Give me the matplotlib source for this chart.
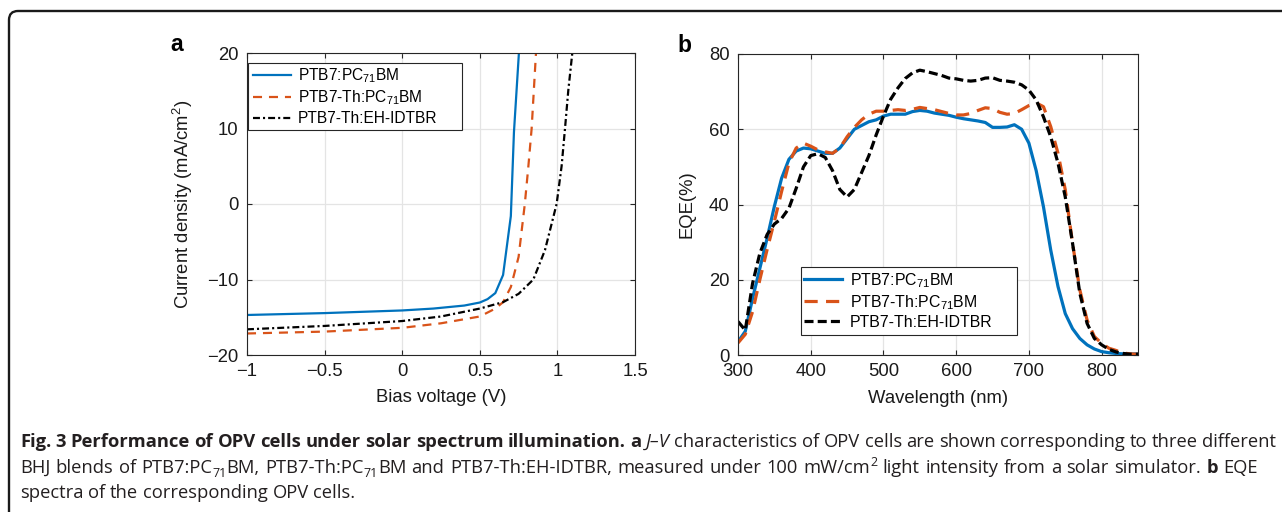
import matplotlib
matplotlib.use('Agg')
import matplotlib.pyplot as plt
from matplotlib.patches import FancyBboxPatch, Rectangle
from matplotlib.transforms import IdentityTransform

plt.rcParams['font.family'] = ['Liberation Sans', 'DejaVu Sans']
plt.rcParams['lines.scale_dashes'] = False

# ---------------- data ----------------
series_names = ['PTB7:PC$_\\mathregular{71}$BM',
                'PTB7-Th:PC$_\\mathregular{71}$BM',
                'PTB7-Th:EH-IDTBR']

# panel a : J-V
jv_v_blue = [-1.0, -0.5, 0.0, 0.2, 0.4, 0.5, 0.55, 0.6, 0.65, 0.70, 0.72, 0.752]
jv_j_blue = [-14.7, -14.45, -14.1, -13.85, -13.45, -13.05, -12.6, -11.8, -9.4, -1.6, 9.5, 20.0]

jv_v_orange = [-1.0, -0.5, 0.0, 0.25, 0.5, 0.6, 0.65, 0.70, 0.75, 0.79, 0.813, 0.834, 0.862]
jv_j_orange = [-17.15, -16.9, -16.4, -15.8, -14.9, -13.85, -13.0, -11.0, -7.0, 0.0, 5.0, 10.0, 20.0]

jv_v_black = [-1.0, -0.5, 0.0, 0.25, 0.5, 0.65, 0.75, 0.845, 0.92, 0.995, 1.027, 1.049, 1.07, 1.096]
jv_j_black = [-16.6, -16.15, -15.5, -14.9, -13.85, -13.0, -11.9, -10.0, -6.1, 0.0, 5.0, 10.0, 15.0, 20.0]

jv_xticks = [-1, -0.5, 0, 0.5, 1, 1.5]
jv_xticklabels = ['\u22121', '\u22120.5', '0', '0.5', '1', '1.5']
jv_yticks = [-20, -10, 0, 10, 20]
jv_yticklabels = ['\u221220', '\u221210', '0', '10', '20']

# panel b : EQE
wl = [300, 310, 320, 330, 340, 350, 360, 370, 380, 390, 400, 410, 420, 430, 440,
      450, 460, 470, 480, 490, 500, 510, 520, 530, 540, 550, 560, 570, 580, 590,
      600, 610, 620, 630, 640, 650, 660, 670, 680, 690, 700, 710, 720, 730, 740,
      750, 760, 770, 780, 790, 800, 810, 820, 830, 840, 850]
eqe_blue = [3.5, 6.3, 15, 23, 31, 39.5, 47, 52, 54.2, 55, 54.8, 54.2, 53.6, 53.6, 55,
            57.5, 60, 61, 62, 62.5, 63.5, 64, 64, 64, 64.7, 65, 64.8, 64.3, 64, 63.7,
            63.2, 62.8, 62.5, 62.2, 61.8, 60.5, 60.5, 60.6, 61.2, 60, 56.3, 49, 39.4, 27.9, 18.2,
            11, 7, 4.4, 2.7, 1.6, 0.9, 0.6, 0.4, 0.3, 0.3, 0.3]
eqe_orange = [3.2, 5.5, 11.5, 20, 28, 35.5, 43.5, 51, 55, 56.3, 55.5, 54.5, 54, 53.6, 55,
              58, 60.5, 62.5, 64, 64.8, 64.8, 65, 65.2, 65, 65.3, 65.8, 65.5, 65.2, 64.7, 64.2,
              63.8, 63.8, 64.2, 65, 65.7, 65.5, 64.5, 64, 64.2, 65.2, 66.3, 67, 66, 60.7, 53.6,
              43.9, 29.7, 17.3, 9.3, 4.9, 3.1, 1.8, 1.2, 0.5, 0.3, 0.2]
eqe_black = [8.9, 6.6, 19, 27, 32, 34.8, 36.3, 39, 44.3, 50, 53, 53.5, 52.5, 49, 44,
             42, 44, 48.5, 53, 58.5, 63.5, 68, 71, 73.5, 75, 75.7, 75.3, 74.8, 74.3, 73.6,
             73.4, 73, 72.8, 73, 73.6, 73.7, 73, 72.8, 72.5, 71.8, 70.4, 67.8, 63.3, 58, 51,
             42, 29.7, 16.4, 8.4, 4.4, 2.7, 1.5, 0.8, 0.4, 0.2, 0.2]
eqe_xticks = [300, 400, 500, 600, 700, 800]
eqe_yticks = [0, 20, 40, 60, 80]

# caption (markup: *bold*, _italic_, ~sub~, ^sup^)
caption_lines = [
    "*Fig. 3 Performance of OPV cells under solar spectrum illumination.* *a* _J\u2013V_ "
    "characteristics of OPV cells are shown corresponding to three different",
    "BHJ blends of PTB7:PC~71~BM, PTB7-Th:PC~71~BM and PTB7-Th:EH-IDTBR, measured under "
    "100 mW/cm^2^ light intensity from a solar simulator. *b* EQE",
    "spectra of the corresponding OPV cells.",
]

# ---------------- figure ----------------
W, H = 1282, 512
fig = plt.figure(figsize=(W / 100, H / 100), dpi=100)
fig.patch.set_facecolor('white')

def px_axes(l, t, r, b):
    return fig.add_axes([l / W, 1 - b / H, (r - l) / W, (b - t) / H])

A_BOX = (247, 53, 635, 355)
B_BOX = (738, 54, 1138, 355)
axA = px_axes(*A_BOX)
axB = px_axes(*B_BOX)

BLUE = '#0072BD'
ORANGE = '#D95319'
BLACK = '#000000'
FS = 13.3

def style(ax):
    ax.grid(True, color='#e4e4e4', lw=0.9)
    ax.set_axisbelow(True)
    for s in ax.spines.values():
        s.set_linewidth(0.8)
        s.set_color('#262626')
    ax.tick_params(direction='in', length=3.5, width=0.8, top=True, right=True,
                   labelsize=FS, color='#262626', labelcolor='#1a1a1a', pad=6)

def ax_frac(box, px, py):
    l, t, r, b = box
    return (px - l) / (r - l), (b - py) / (b - t)

def legend_box(ax, box, rect, anchor_px, fontsize, labelspacing):
    l, t, r, b = rect
    x0, y0 = ax_frac(box, l, b)
    x1, y1 = ax_frac(box, r, t)
    ax.add_patch(Rectangle((x0, y0), x1 - x0, y1 - y0, transform=ax.transAxes,
                           fc='white', ec='#262626', lw=0.8, zorder=5, clip_on=False))
    leg = ax.legend(loc='upper left', bbox_to_anchor=ax_frac(box, *anchor_px),
                    borderaxespad=0, borderpad=0, frameon=False,
                    fontsize=fontsize, handlelength=2.42, handletextpad=0.48,
                    labelspacing=labelspacing)
    leg.set_zorder(6)
    return leg

# panel a
axA.plot(jv_v_blue, jv_j_blue, color=BLUE, lw=1.6, label=series_names[0])
axA.plot(jv_v_orange, jv_j_orange, color=ORANGE, lw=1.6, dashes=(6.5, 5), label=series_names[1])
axA.plot(jv_v_black, jv_j_black, color=BLACK, lw=1.6, dashes=(5, 2.2, 1.5, 2.2), label=series_names[2])
axA.set_xlim(-1, 1.5)
axA.set_ylim(-20, 20)
axA.set_xticks(jv_xticks)
axA.set_xticklabels(jv_xticklabels)
axA.set_yticks(jv_yticks)
axA.set_yticklabels(jv_yticklabels)
style(axA)
axA.set_xlabel('Bias voltage (V)', fontsize=FS, color='#1a1a1a', va='center')
axA.xaxis.set_label_coords(0.5, -0.142)
axA.set_ylabel('Current density (mA/cm$^\\mathregular{2}$)', fontsize=FS, color='#1a1a1a', va='center')
axA.yaxis.set_label_coords((183 - 247) / 388, 0.5)
legend_box(axA, A_BOX, (248, 63, 462, 130), (253, 66), 11.2, 0.25)

# panel b
axB.plot(wl, eqe_blue, color=BLUE, lw=2.3, label=series_names[0])
axB.plot(wl, eqe_orange, color=ORANGE, lw=2.3, dashes=(9.5, 6), label=series_names[1])
axB.plot(wl, eqe_black, color=BLACK, lw=2.3, dashes=(6.5, 3), label=series_names[2])
axB.set_xlim(300, 850)
axB.set_ylim(0, 80)
axB.set_xticks(eqe_xticks)
axB.set_yticks(eqe_yticks)
style(axB)
axB.set_xlabel('Wavelength (nm)', fontsize=FS, color='#1a1a1a', va='center')
axB.xaxis.set_label_coords(0.5, -0.143)
axB.set_ylabel('EQE(%)', fontsize=FS, color='#1a1a1a', va='center')
axB.yaxis.set_label_coords((687 - 738) / 400, 0.5)
legend_box(axB, B_BOX, (801, 267, 1017, 335), (804, 271), 11.4, 0.2)

# panel letters
fig.text(170 / W, 1 - 51 / H, 'a', fontsize=16.5, weight='bold', va='baseline', ha='left')
fig.text(677 / W, 1 - 52 / H, 'b', fontsize=16.5, weight='bold', va='baseline', ha='left')

# border
border = FancyBboxPatch((9, -40), 1320, 512 - 11 + 40,
                        boxstyle='round,pad=0,rounding_size=9',
                        transform=IdentityTransform(), fill=False,
                        lw=1.7, ec='#1a1a1a')
fig.add_artist(border)

# ---------------- caption ----------------
renderer = fig.canvas.get_renderer()
CAP_FONT = ['Open Sans', 'DejaVu Sans']

def parse_line(s):
    """Return list of words; each word is list of (text, weight, style, shift)."""
    words, cur = [], []
    state = {'weight': 'normal', 'style': 'normal', 'shift': None}
    buf = ''
    for ch in s + ' ':
        if ch in '*_~^ ':
            if buf:
                cur.append((buf, state['weight'], state['style'], state['shift']))
                buf = ''
            if ch == '*':
                state['weight'] = 'bold' if state['weight'] == 'normal' else 'normal'
            elif ch == '_':
                state['style'] = 'italic' if state['style'] == 'normal' else 'normal'
            elif ch == '~':
                state['shift'] = 'sub' if state['shift'] is None else None
            elif ch == '^':
                state['shift'] = 'sup' if state['shift'] is None else None
            elif cur:
                words.append(cur)
                cur = []
        else:
            buf += ch
    return words

def seg_size(size, shift):
    return size * 0.68 if shift else size

_wcache = {}
def text_width(s, size, weight='normal', style_='normal'):
    key = (s, round(size, 4), weight, style_)
    if key in _wcache:
        return _wcache[key]
    t1 = fig.text(0, 0, '|' + s + '|', family=CAP_FONT, fontsize=size, weight=weight, style=style_)
    t2 = fig.text(0, 0, '||', family=CAP_FONT, fontsize=size, weight=weight, style=style_)
    w = t1.get_window_extent(renderer).width - t2.get_window_extent(renderer).width
    t1.remove()
    t2.remove()
    _wcache[key] = w
    return w

def word_width(word, size):
    return sum(text_width(t, seg_size(size, sh), wt, st) for t, wt, st, sh in word)

def line_width(words, size):
    return sum(word_width(w, size) for w in words) + text_width(' ', size) * (len(words) - 1)

parsed = [parse_line(s) for s in caption_lines]
X0 = 20.0
base = 12.0
cap_size = base * (1256.0 / line_width(parsed[0], base))
em_px = cap_size * 100 / 72

baselines = [447, 473, 498.5]
line_right = [1276, 1258, None]
for words, yb, right in zip(parsed, baselines, line_right):
    total_words = sum(word_width(w, cap_size) for w in words)
    if right is not None and len(words) > 1:
        gap = (right - X0 - total_words) / (len(words) - 1)
    else:
        gap = text_width(' ', cap_size)
    x = X0
    for word in words:
        for t, wt, st, sh in word:
            size = seg_size(cap_size, sh)
            y = yb
            if sh == 'sub':
                y = yb + 0.2 * em_px
            elif sh == 'sup':
                y = yb - 0.4 * em_px
            fig.text(x / W, 1 - y / H, t, family=CAP_FONT, fontsize=size, weight=wt,
                     style=st, va='baseline', ha='left', color='#231f20')
            x += text_width(t, size, wt, st)
        x += gap

fig.savefig('out.png', dpi=100)
